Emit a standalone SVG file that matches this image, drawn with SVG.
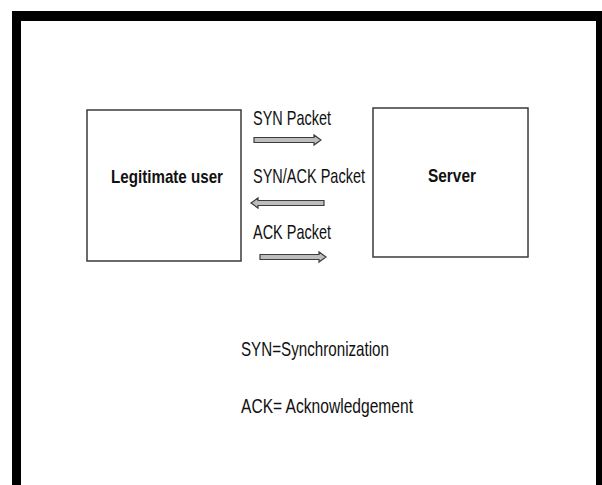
<svg xmlns="http://www.w3.org/2000/svg" width="602" height="485" viewBox="0 0 602 485">
<style>
.box{fill:#fff;stroke:#3a3a3a;stroke-width:1.5}
.lbl{font-family:"Liberation Sans",Arial,sans-serif;font-size:21px;fill:#111}
.bold{font-family:"Liberation Sans",Arial,sans-serif;font-size:19px;font-weight:bold;fill:#111}
.arr{fill:#bdbdbd;stroke:#3c3c3c;stroke-width:1.2;stroke-linejoin:miter}
</style>
<rect x="0" y="0" width="602" height="485" fill="#fff"/>
<g id="frame">
<path d="M12 485 V11 H602 V21 H21 V485 Z" fill="#000"/>
<rect x="596" y="11" width="6" height="474" fill="#000"/>
</g>
<g id="legit">
<rect class="box" x="87" y="110" width="154" height="151"/>
<text class="bold" x="111" y="183" textLength="112" lengthAdjust="spacingAndGlyphs">Legitimate user</text>
</g>
<g id="server">
<rect class="box" x="373" y="108" width="155" height="149"/>
<text class="bold" x="428" y="182" textLength="48" lengthAdjust="spacingAndGlyphs" font-size="22">Server</text>
</g>
<g id="connectors">
<path class="arr" d="M254 137.5 H314 V135 L321 140 L314 145 V142.5 H254 Z"/>
<path class="arr" d="M324 200.5 H258 V198 L251 203 L258 208 V205.5 H324 Z"/>
<path class="arr" d="M260 254.5 H319 V252 L326 257 L319 262 V259.5 H260 Z"/>
</g>
<g id="labels">
<text class="lbl" x="253" y="125" textLength="78" lengthAdjust="spacingAndGlyphs">SYN Packet</text>
<text class="lbl" x="253" y="183" textLength="112" lengthAdjust="spacingAndGlyphs">SYN/ACK Packet</text>
<text class="lbl" x="253" y="239" textLength="78" lengthAdjust="spacingAndGlyphs">ACK Packet</text>
</g>
<g id="legend">
<text class="lbl" x="241" y="356" textLength="148" lengthAdjust="spacingAndGlyphs">SYN=Synchronization</text>
<text class="lbl" x="241" y="413" textLength="172" lengthAdjust="spacingAndGlyphs">ACK= Acknowledgement</text>
</g>
</svg>
